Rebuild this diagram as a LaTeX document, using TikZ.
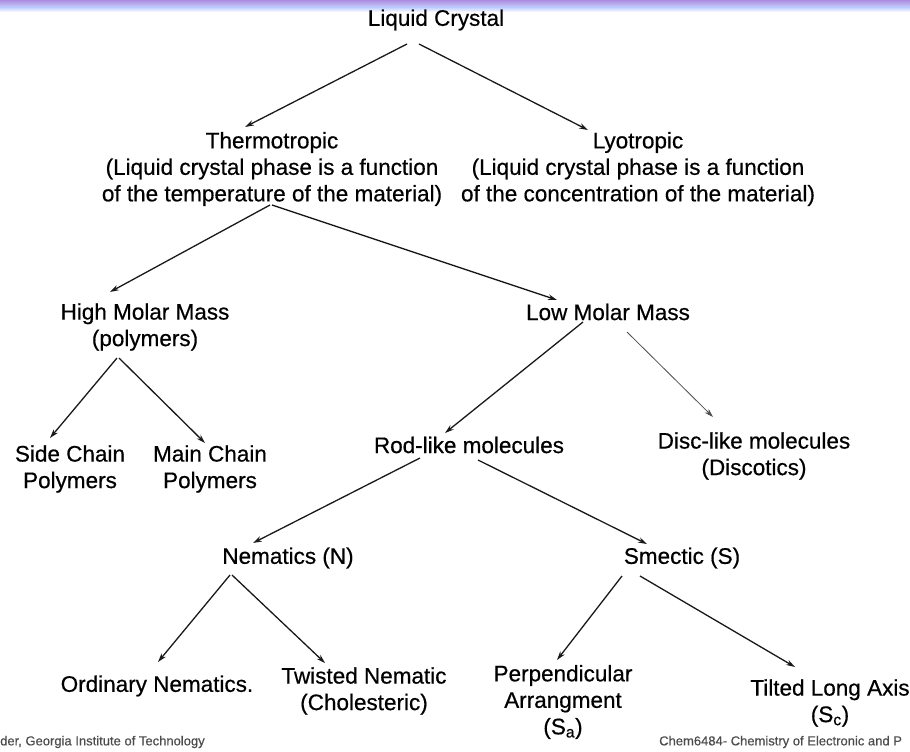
\documentclass[tikz,border=0pt]{standalone}
\usepackage{fontspec}
\setmainfont{Liberation Sans}[FakeBold=0.5]
\usetikzlibrary{arrows.meta}
\begin{document}
\begin{tikzpicture}[x=1pt,y=-1pt,
  every node/.style={font=\fontsize{22.5}{26.5}\selectfont,align=center,inner sep=0pt},
  arr/.style={-{Stealth[length=9pt,width=5.5pt]},line width=1.3pt,black!90},
  thin arr/.style={arr,line width=0.8pt,black!70},
  foot/.style={font=\fontsize{13}{15}\selectfont,text=black!70,anchor=west}]
\useasboundingbox (0,0) rectangle (910,752);
% header band
\shade[top color=blue!45!violet!45, bottom color=cyan!25!blue!22] (0,0) rectangle (910,8);
\shade[top color=cyan!25!blue!22, bottom color=white] (0,8) rectangle (910,12);

\node (lc) at (436,20) {Liquid Crystal};
\node (thermo) at (272,169) {Thermotropic\\(Liquid crystal phase is a function\\of the temperature of the material)};
\node (lyo) at (638,169) {Lyotropic\\(Liquid crystal phase is a function\\of the concentration of the material)};
\node (high) at (145,327) {High Molar Mass\\(polymers)};
\node (low) at (608,312) {Low Molar Mass};
\node (side) at (70,469) {Side Chain\\Polymers};
\node (main) at (210,469) {Main Chain\\Polymers};
\node (rod) at (469,445) {Rod-like molecules};
\node (disc) at (754,456) {Disc-like molecules\\(Discotics)};
\node (nem) at (288,558) {Nematics (N)};
\node (sme) at (682,558) {Smectic (S)};
\node (ord) at (157,686) {Ordinary Nematics.};
\node (twist) at (364,691) {Twisted Nematic\\(Cholesteric)};
\node (perp) at (563,702) {Perpendicular\\Arrangment\\(S\textsubscript{a})};
\node (tilt) at (830,703) {Tilted Long Axis\\(S\textsubscript{c})};

\node[foot] (gt) at (0,742) {der, Georgia Institute of Technology};
\node[foot] (course) at (659,742) {Chem6484- Chemistry of Electronic and P};

% branches
\draw[arr] ([shift={(-29,24)}]lc.center) -- ([shift={(-27,-42)}]thermo.center);
\draw[arr] ([shift={(-17,24)}]lc.center) -- ([shift={(-50,-39)}]lyo.center);
\draw[arr] ([shift={(-2,36)}]thermo.center) -- ([shift={(-35,-35)}]high.center);
\draw[arr] ([shift={(0,36)}]thermo.center) -- ([shift={(-51,-12)}]low.center);
\draw[arr] ([shift={(-28,31)}]high.center) -- ([shift={(-20,-31)}]side.center);
\draw[arr] ([shift={(-26,31)}]high.center) -- ([shift={(-5,-26)}]main.center);
\draw[arr] ([shift={(-25,10)}]low.center) -- ([shift={(-24,-12)}]rod.center);
\draw[thin arr] ([shift={(19,20)}]low.center) -- ([shift={(-41,-39)}]disc.center);
\draw[arr] ([shift={(-49,13)}]rod.center) -- ([shift={(-35,-15)}]nem.center);
\draw[arr] ([shift={(9,15)}]rod.center) -- ([shift={(-35,-14)}]sme.center);
\draw[arr] ([shift={(-58,17)}]nem.center) -- ([shift={(1,-24)}]ord.center);
\draw[arr] ([shift={(-56,17)}]nem.center) -- ([shift={(-39,-28)}]twist.center);
\draw[arr] ([shift={(-60,18)}]sme.center) -- ([shift={(-6,-42)}]perp.center);
\draw[arr] ([shift={(-42,18)}]sme.center) -- ([shift={(-35,-36)}]tilt.center);
\end{tikzpicture}
\end{document}
